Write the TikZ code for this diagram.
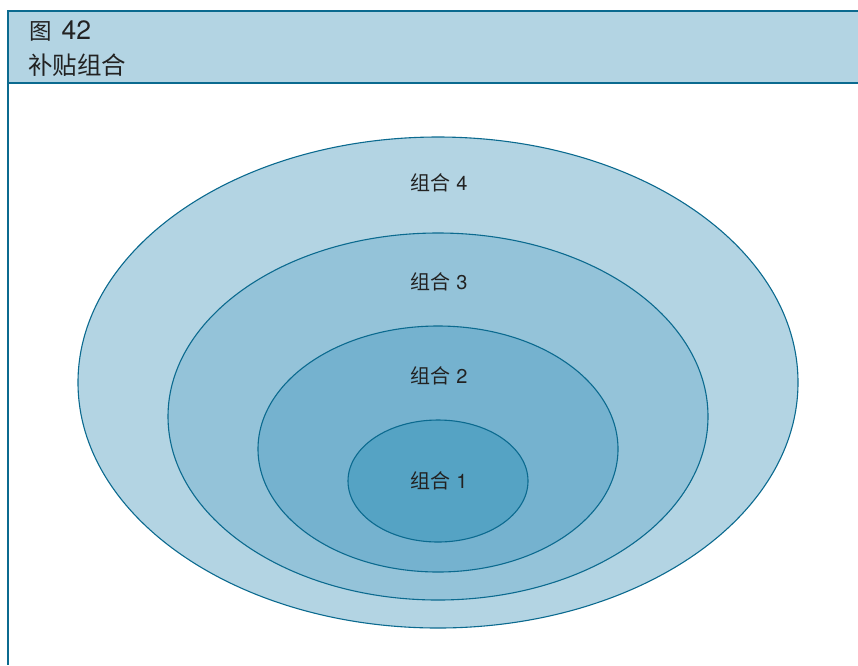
\documentclass[tikz,border=0pt]{standalone}
\usepackage{fontspec}
\setmainfont{TeX Gyre Heros}
\newfontfamily\cjk{Noto Sans CJK SC}
\definecolor{edge}{HTML}{0B6A8F}
\definecolor{lvA}{HTML}{B3D4E3}
\definecolor{lvB}{HTML}{94C3D9}
\definecolor{lvC}{HTML}{75B2CF}
\definecolor{lvD}{HTML}{55A3C4}
\definecolor{ink}{HTML}{222222}
\tikzset{
  ring/.style={draw=edge, line width=1.1pt},
  ringlabel/.style={font=\fontsize{20}{23}\selectfont, text=ink, inner sep=0pt},
}
\begin{document}
\begin{tikzpicture}[x=1pt, y=-1pt]
\useasboundingbox (0,0) rectangle (858,665);
% header band
\fill[lvA] (8,11) rectangle (858,83);
\draw[edge, line width=2.4pt] (858,11) -- (8,11) -- (8,665);
\draw[edge, line width=2.4pt] (8,83) -- (858,83);
\node[anchor=west, inner sep=0pt, text=ink] (fig) at (29,31)
  {{\cjk\fontsize{22.5}{24}\selectfont 图}\hspace{10pt}{\fontsize{26.5}{28}\selectfont 42}};
\node[anchor=west, inner sep=0pt, text=ink] (title) at (28,65)
  {\cjk\fontsize{24.5}{27}\selectfont 补贴组合};
% nested ellipses
\filldraw[ring, fill=lvA] (438,382.5) ellipse [x radius=360, y radius=245.5];
\filldraw[ring, fill=lvB] (438,416.5) ellipse [x radius=270, y radius=183.5];
\filldraw[ring, fill=lvC] (438,449) ellipse [x radius=180, y radius=123];
\filldraw[ring, fill=lvD] (438,481) ellipse [x radius=90, y radius=61];
% labels
\node[ringlabel] (g4) at (439,183) {{\cjk 组合}\hspace{6pt}4};
\node[ringlabel] (g3) at (439,282) {{\cjk 组合}\hspace{6pt}3};
\node[ringlabel] (g2) at (439,376) {{\cjk 组合}\hspace{6pt}2};
\node[ringlabel] (g1) at (439,481) {{\cjk 组合}\hspace{6pt}1};
\end{tikzpicture}
\end{document}
